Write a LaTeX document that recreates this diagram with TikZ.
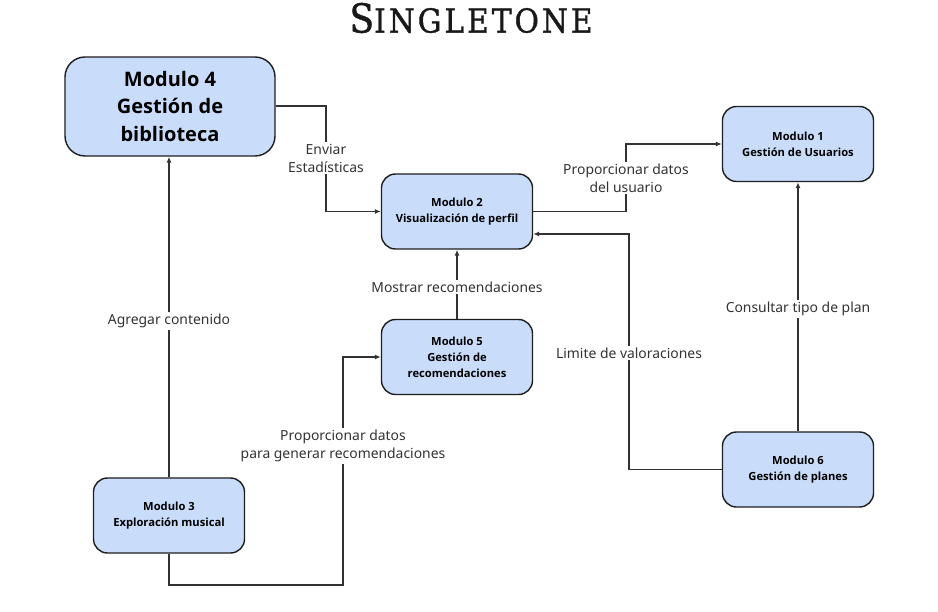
\documentclass[tikz,border=0pt]{standalone}
\usepackage{fontspec}
\usetikzlibrary{arrows.meta}
\setmainfont{Noto Sans}
\newfontfamily\negrita{Open Sans}
\newfontfamily\titlefont{DejaVu Serif Condensed}[FakeBold=1.2]
\definecolor{cajaazul}{RGB}{201,221,251}
\definecolor{borde}{RGB}{30,30,30}
\definecolor{linea}{RGB}{50,50,50}
\begin{document}
\begin{tikzpicture}[x=1pt,y=-1pt,
	modulo/.style={draw=borde, line width=1.4pt, fill=cajaazul, rounded corners=14pt,
		minimum width=151pt, minimum height=75pt, align=center,
		font=\negrita\fontsize{11.2}{16}\selectfont\bfseries},
	flecha/.style={draw=linea, line width=1.2pt, -{Latex[length=6pt,width=5pt]}},
	etiqueta/.style={fill=white, align=center, inner sep=2pt, text=black!80,
		font=\fontsize{13.9}{18}\selectfont}]
	\useasboundingbox (0,0) rectangle (938,612);
	% titulo
	\node (titulo) at (471,18) {\titlefont\color{black!90}{\fontsize{40}{40}\selectfont S}{\fontsize{33}{33}\selectfont\addfontfeature{LetterSpace=9}INGLETONE}};
	% modulos
	\node[modulo, minimum width=210pt, minimum height=99pt, rounded corners=20pt,
		font=\negrita\fontsize{20}{27.5}\selectfont\bfseries] (m4) at (170,106.5) {Modulo 4\\Gestión de\\biblioteca};
	\node[modulo] (m2) at (457,211.5) {Modulo 2\\Visualización de perfil};
	\node[modulo] (m1) at (798,144) {Modulo 1\\Gestión de Usuarios};
	\node[modulo] (m5) at (457,357) {Modulo 5\\Gestión de\\recomendaciones};
	\node[modulo] (m3) at (169,515.5) {Modulo 3\\Exploración musical};
	\node[modulo] (m6) at (798,469.5) {Modulo 6\\Gestión de planes};
	% conexiones
	\draw[flecha] (m4.east |- 0,106) -| (326,158) |- (m2.west);
	\node[etiqueta] (l1) at (326,158) {Enviar\\Estadísticas};
	\draw[flecha] (m2.east) -| (626,178) |- (m1.west);
	\node[etiqueta] (l2) at (626,178) {Proporcionar datos\\del usuario};
	\draw[flecha] (m6.north) -- (m1.south);
	\node[etiqueta] (l3) at (798,309) {Consultar tipo de plan};
	\draw[flecha] (m6.west) -| (629,353) |- (m2.east |- 0,234);
	\node[etiqueta] (l4) at (629,353) {Limite de valoraciones};
	\draw[flecha] (m5.north) -- (m2.south);
	\node[etiqueta] (l5) at (457,287) {Mostrar recomendaciones};
	\draw[flecha] (m3.north) -- (m4.south -| m3.north);
	\node[etiqueta] (l6) at (169,321) {Agregar contenido};
	\draw[flecha] (m3.south) -- (169,585) -| (343,446) |- (m5.west);
	\node[etiqueta] (l7) at (343,446) {Proporcionar datos\\para generar recomendaciones};
\end{tikzpicture}
\end{document}
